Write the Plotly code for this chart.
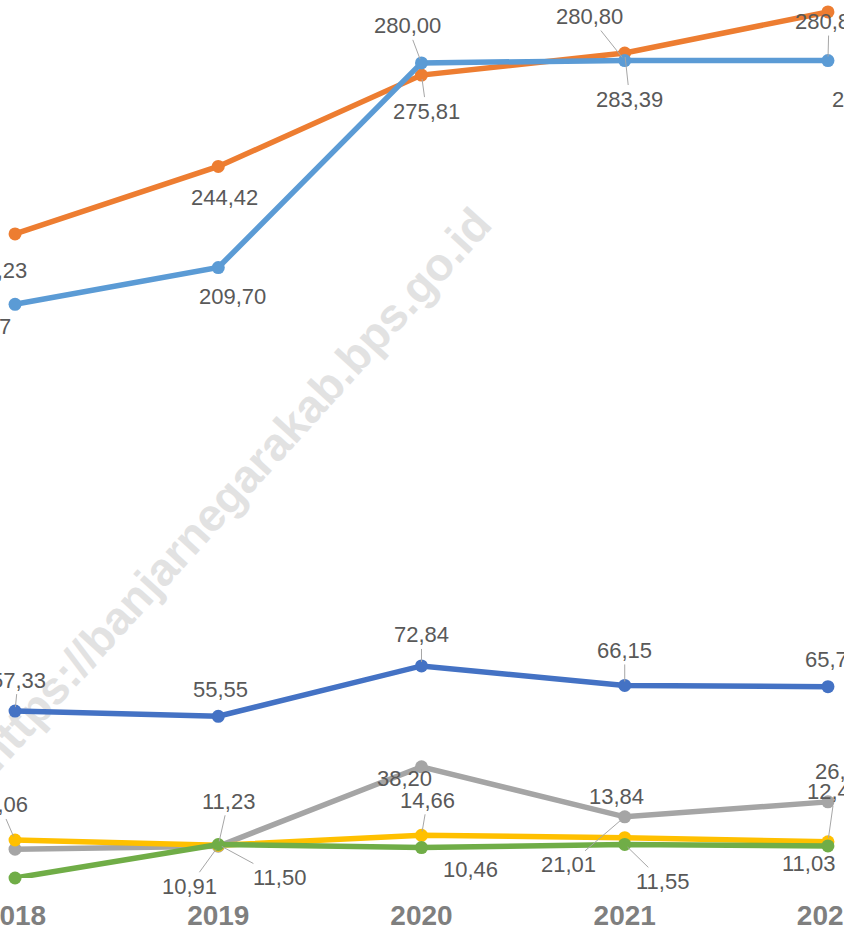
import plotly.graph_objects as go

# tahun & label sumbu x
years = [2018, 2019, 2020, 2021, 2022]
tick_text = ['2018', '2019', '2020', '2021', '2022']

# nilai tiap seri (urutan warna Office)
seri_biru_tua = [57.33, 55.55, 72.84, 66.15, 65.72]
seri_oranye = [221.23, 244.42, 275.81, 283.39, 297.50]
seri_abu = [9.90, 10.91, 38.20, 21.01, 26.15]
seri_kuning = [13.06, 11.23, 14.66, 13.84, 12.45]
seri_biru_muda = [197.07, 209.70, 280.00, 280.80, 280.80]
seri_hijau = [0.00, 11.50, 10.46, 11.55, 11.03]

# (dx, dy, leader) posisi label data dalam piksel relatif terhadap titik
pos_biru_tua = [(3, -31, True), (2, -27, False), (0, -31, True), (0, -35, True), (5, -27, False)]
pos_oranye = [(-22, 37, False), (6, 31, False), (5, 36, True), (5, 46, True), (38, 88, False)]
pos_abu = [None, (-29, 40, True), (-17, 12, False), (-56, 48, True), (15, -30, False)]
pos_kuning = [(-17, -35, True), (10, -44, True), (6, -35, True), (-8, -41, False), (7, -50, True)]
pos_biru_muda = [(-38, 22, False), (14, 29, False), (-14, -37, True), (-35, -44, True), (1, -39, True)]
pos_hijau = [None, (61, 33, True), (49, 22, False), (38, 37, True), (-19, 18, False)]

series = [
    (seri_biru_tua, '#4472C4', pos_biru_tua),
    (seri_oranye, '#ED7D31', pos_oranye),
    (seri_abu, '#A5A5A5', pos_abu),
    (seri_kuning, '#FFC000', pos_kuning),
    (seri_biru_muda, '#5B9BD5', pos_biru_muda),
    (seri_hijau, '#70AD47', pos_hijau),
]

fig = go.Figure()
annotations = []
for vals, color, pos in series:
    fig.add_trace(go.Scatter(x=years, y=vals, mode='lines+markers',
                             line=dict(color=color, width=5.5), marker=dict(color=color, size=13),
                             cliponaxis=False, showlegend=False))
    for x, v, p in zip(years, vals, pos):
        if p is None:
            continue
        dx, dy, leader = p
        txt = f'{v:.2f}'.replace('.', ',')
        if leader:
            annotations.append(dict(x=x, y=v, text=txt, showarrow=True, ax=dx, ay=dy,
                                    arrowhead=0, arrowwidth=1, arrowcolor='#A6A6A6', standoff=4,
                                    font=dict(size=22, color='#595959')))
        else:
            annotations.append(dict(x=x, y=v, text=txt, showarrow=False, xshift=dx, yshift=-dy,
                                    font=dict(size=22, color='#595959')))

fig.update_layout(
    width=844, height=935, margin=dict(l=0, r=0, t=0, b=57, autoexpand=False),
    plot_bgcolor='white', paper_bgcolor='white',
    font=dict(family='Liberation Sans, Arial, sans-serif'),
    xaxis=dict(range=[2017.926, 2022.079], tickvals=years, ticktext=tick_text, showgrid=False,
               zeroline=False, showline=False, ticklabelstandoff=18, ticklabeloverflow='allow',
               automargin=False,
               tickfont=dict(size=28, color='#7F7F7F', family='Liberation Sans, Arial, sans-serif', weight='bold')),
    yaxis=dict(range=[0, 301.6], showgrid=False, zeroline=False, showticklabels=False, showline=False,
               automargin=False),
    annotations=annotations,
    # watermark di bawah garis
    shapes=[dict(type='line', xref='paper', yref='paper', x0=0.0348, y0=0.1933, x1=0.5126, y1=0.6997,
                 line=dict(width=0, color='rgba(0,0,0,0)'), layer='below',
                 label=dict(text='https://banjarnegarakab.bps.go.id', textposition='middle', yanchor='middle',
                            font=dict(size=46, color='#E2E2E2', weight='bold',
                                      family='Liberation Sans, Arial, sans-serif')))],
)

fig.write_html('out.html', config={'displayModeBar': False},
               post_script="document.body.style.margin='0';")
